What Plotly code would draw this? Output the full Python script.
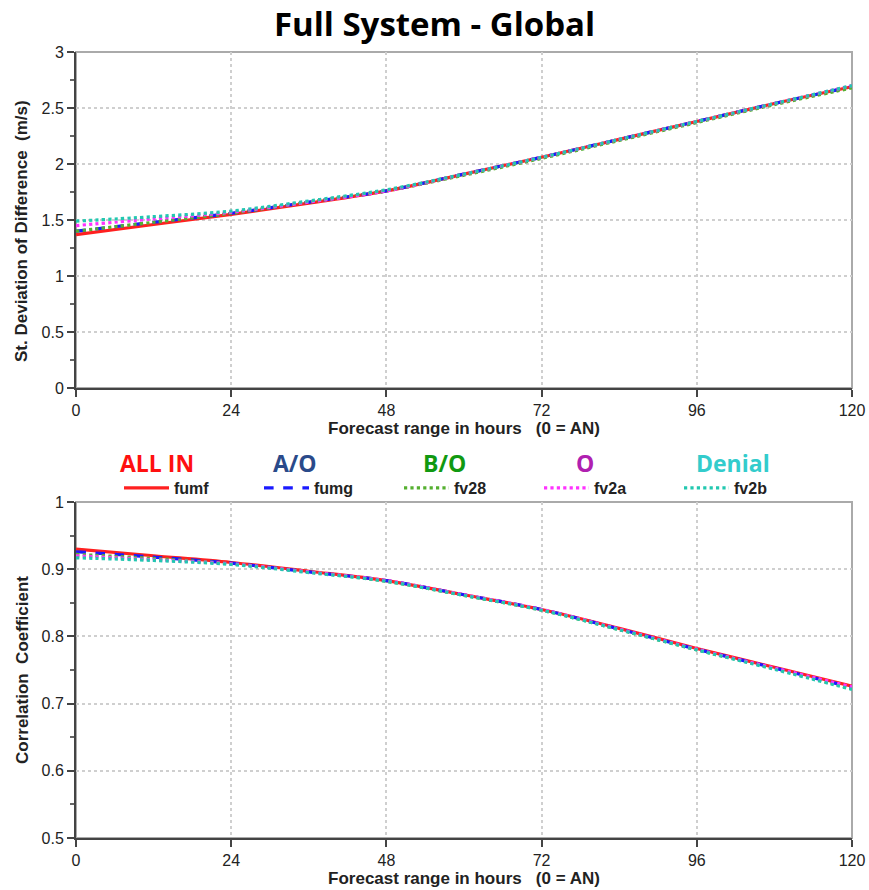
import plotly.graph_objects as go

# Forecast lead times (hours)
hours = [0, 12, 24, 36, 48, 60, 72, 84, 96, 108, 120]

# Standard deviation of difference (m/s)
sd_fumf = [1.37, 1.46, 1.55, 1.65, 1.76, 1.91, 2.06, 2.22, 2.38, 2.54, 2.69]
sd_fumg = [1.40, 1.48, 1.56, 1.66, 1.76, 1.91, 2.06, 2.22, 2.38, 2.54, 2.69]
sd_fv28 = [1.40, 1.48, 1.56, 1.66, 1.76, 1.90, 2.05, 2.21, 2.37, 2.53, 2.68]
sd_fv2a = [1.45, 1.51, 1.57, 1.66, 1.76, 1.91, 2.06, 2.22, 2.38, 2.54, 2.70]
sd_fv2b = [1.49, 1.53, 1.58, 1.67, 1.77, 1.91, 2.06, 2.22, 2.38, 2.54, 2.70]

# Correlation coefficient
cc_fumf = [0.930, 0.920, 0.910, 0.897, 0.883, 0.862, 0.840, 0.812, 0.782, 0.754, 0.726]
cc_fumg = [0.926, 0.918, 0.909, 0.896, 0.883, 0.862, 0.840, 0.811, 0.781, 0.753, 0.724]
cc_fv28 = [0.922, 0.916, 0.908, 0.896, 0.882, 0.861, 0.839, 0.810, 0.780, 0.752, 0.722]
cc_fv2a = [0.920, 0.914, 0.908, 0.896, 0.883, 0.862, 0.840, 0.811, 0.781, 0.753, 0.725]
cc_fv2b = [0.917, 0.913, 0.907, 0.895, 0.882, 0.861, 0.839, 0.810, 0.780, 0.751, 0.721]

runs = ["fumf", "fumg", "fv28", "fv2a", "fv2b"]
groups = ["ALL IN", "A/O", "B/O", "O", "Denial"]
group_colors = ["#ff1010", "#2a4a8a", "#119911", "#b020b0", "#33cccc"]
line_colors = ["#ff2020", "#1a1aff", "#55b030", "#ff33ff", "#22c8b0"]
line_dashes = ["solid", "dash", "dot", "dot", "dot"]

sd_series = [sd_fumf, sd_fumg, sd_fv28, sd_fv2a, sd_fv2b]
cc_series = [cc_fumf, cc_fumg, cc_fv28, cc_fv2a, cc_fv2b]

x_ticks = [0, 24, 48, 72, 96, 120]

W, H = 869, 890
ML, MR, MT, MB = 76, 17, 52, 52
PW, PH = W - ML - MR, H - MT - MB


def px_to_paper(px, py):
    """Page pixel position to paper coordinates (inside the margins)."""
    return (px - ML) / PW, 1 - (py - MT) / PH


fig = go.Figure()

for i, name in enumerate(runs):
    fig.add_trace(go.Scatter(
        x=hours, y=sd_series[i], mode="lines", name=f"<b>{name}</b>",
        line=dict(color=line_colors[i], dash=line_dashes[i], width=3.2, shape="spline"),
        xaxis="x", yaxis="y", showlegend=True,
    ))
for i, name in enumerate(runs):
    fig.add_trace(go.Scatter(
        x=hours, y=cc_series[i], mode="lines", name=name,
        line=dict(color=line_colors[i], dash=line_dashes[i], width=3.2, shape="spline"),
        xaxis="x2", yaxis="y2", showlegend=False,
    ))

tick_font = dict(family="Liberation Sans Narrow, Arial Narrow, Arial", size=16, color="#222")
title_font = dict(family="Liberation Sans, Arial", size=17, color="#222")

common_x = dict(
    range=[0, 120], tickvals=x_ticks, ticks="outside", ticklen=7, tickwidth=1.5,
    tickcolor="#444", showline=True, linecolor="#444", linewidth=2,
    showgrid=True, gridcolor="#cfcfcf", griddash="dot", gridwidth=1.5,
    zeroline=False, tickfont=tick_font, automargin=False,
)
common_y = dict(
    ticks="outside", ticklen=7, tickwidth=1.5, tickcolor="#444",
    showline=True, linecolor="#444", linewidth=2,
    showgrid=True, gridcolor="#cfcfcf", griddash="dot", gridwidth=1.5,
    zeroline=False, tickfont=tick_font, automargin=False,
)

top_dom = [1 - (388 - MT) / PH, 1]
bot_dom = [0, (838 - 502) / PH]

fig.update_layout(
    width=W, height=H,
    margin=dict(l=ML, r=MR, t=MT, b=MB),
    paper_bgcolor="white", plot_bgcolor="white",
    xaxis=dict(common_x, domain=[0, 1], anchor="y",
               title=dict(text="<b>Forecast range in hours   (0 = AN)</b>", font=title_font, standoff=2)),
    yaxis=dict(common_y, domain=top_dom, anchor="x", range=[0, 3], dtick=0.5,
               minor=dict(ticks="outside", ticklen=4, tickcolor="#666", dtick=0.25, showgrid=False)),
    xaxis2=dict(common_x, domain=[0, 1], anchor="y2",
                title=dict(text="<b>Forecast range in hours   (0 = AN)</b>", font=title_font, standoff=2)),
    yaxis2=dict(common_y, domain=bot_dom, anchor="x2", range=[0.5, 1], dtick=0.1,
                minor=dict(ticks="outside", ticklen=4, tickcolor="#666", dtick=0.05, showgrid=False)),
    title=dict(text="<b>Full System - Global</b>", x=0.5, xanchor="center", y=0.972, yanchor="middle",
               font=dict(family="Open Sans, Noto Sans, Arial", size=33, color="black")),
    legend=dict(orientation="h", x=(119 - ML) / PW, y=px_to_paper(0, 488)[1],
                xanchor="left", yanchor="middle",
                entrywidth=80, entrywidthmode="pixels", itemwidth=45,
                font=dict(family="Liberation Sans, Arial", size=16, color="#222"),
                bgcolor="rgba(0,0,0,0)", traceorder="normal"),
)

# light frame on the top and right of each panel
for xr, yr in [("x domain", "y domain"), ("x2 domain", "y2 domain")]:
    fig.add_shape(type="rect", xref=xr, yref=yr, x0=0, x1=1, y0=0, y1=1,
                  line=dict(color="#aaaaaa", width=2), layer="below")

# vertical axis titles
for text, cy in [("<b>St. Deviation of Difference  (m/s)</b>", 231),
                 ("<b>Correlation  Coefficient</b>", 670)]:
    ax, ay = px_to_paper(22, cy)
    fig.add_annotation(text=text, x=ax, y=ay, xref="paper", yref="paper",
                       xanchor="center", yanchor="middle", textangle=-90,
                       showarrow=False, font=dict(title_font, size=17))

# group labels above the legend entries
group_x = [157, 295, 444, 585, 733]
for gx, label, col in zip(group_x, groups, group_colors):
    ax, ay = px_to_paper(gx, 463)
    fig.add_annotation(text=f"<b>{label}</b>", x=ax, y=ay,
                       xref="paper", yref="paper", xanchor="center", yanchor="middle",
                       showarrow=False,
                       font=dict(family="Open Sans, Noto Sans, Arial", size=23, color=col))

fig.write_html("out.html")
